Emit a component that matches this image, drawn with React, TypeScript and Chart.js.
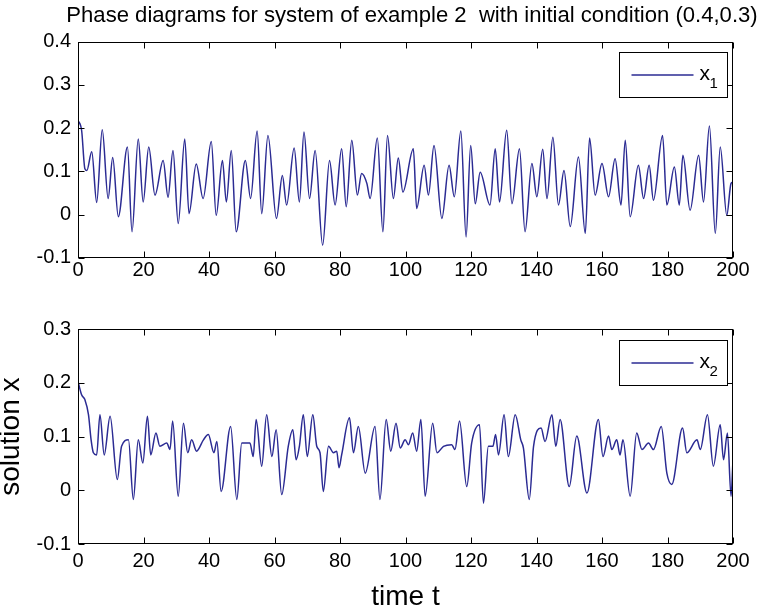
import React, { useEffect, useRef } from 'react';
import { Chart, registerables } from 'chart.js';

Chart.register(...registerables);

const TITLE = 'Phase diagrams for system of example 2  with initial condition (0.4,0.3)';
const X_LABEL = 'time t';
const Y_LABEL = 'solution x';

// time range and tick step (shared by both panels)
const timeRange = [0, 200];
const timeStep = 20;
// y ranges and steps
const x1Range = [-0.1, 0.4];
const x2Range = [-0.1, 0.3];
const yStep = 0.1;

// legend names: base letter and subscript
const x1Legend = ['x', '1'];
const x2Legend = ['x', '2'];

// x1(t): [t, value]
const x1Series: [number, number][] = [
  [0, 0.218], [1.1, 0.195], [2.1, 0.106], [2.7, 0.102], [4.2, 0.145], [5.7, 0.028], [7.4, 0.196],
  [9.2, 0.037], [10.6, 0.132], [12.3, -0.005], [15.1, 0.156], [16.5, -0.04], [18.4, 0.175],
  [19.9, 0.029], [21.6, 0.156], [23.5, 0.045], [26.0, 0.125], [27.5, 0.04], [29.0, 0.148],
  [30.6, -0.021], [32.6, 0.175], [33.9, 0.002], [36.1, 0.117], [38.2, 0.037], [40.7, 0.169],
  [42.2, -0.002], [44.1, 0.125], [45.3, 0.029], [46.8, 0.148], [48.3, -0.04], [51.1, 0.125],
  [52.7, 0.037], [54.7, 0.193], [56.1, 0.002], [58.0, 0.183], [60.6, -0.009], [62.4, 0.09],
  [63.7, 0.022], [66.0, 0.154], [67.6, 0.029], [69.0, 0.191], [70.7, 0.037], [72.4, 0.148],
  [74.7, -0.071], [76.8, 0.125], [78.5, 0.022], [80.5, 0.152], [81.9, 0.018], [83.6, 0.172],
  [85.3, 0.045], [86.6, 0.095], [88.2, 0.072], [89.2, 0.037], [91.4, 0.177], [93.1, -0.04],
  [94.5, 0.183], [96.3, 0.037], [97.8, 0.131], [99.2, 0.052], [102.4, 0.152], [103.4, 0.014],
  [105.7, 0.114], [107.0, 0.045], [108.7, 0.16], [111.1, -0.009], [113.3, 0.114], [114.9, 0.041],
  [116.9, 0.193], [118.5, -0.052], [119.9, 0.16], [121.3, 0.025], [122.8, 0.098], [125.8, 0.022],
  [127.4, 0.152], [128.7, 0.029], [130.9, 0.195], [132.5, 0.025], [134.8, 0.152], [136.5, -0.04],
  [138.6, 0.118], [140.1, 0.041], [141.9, 0.151], [143.2, 0.037], [145.0, 0.179], [146.7, 0.022],
  [148.4, 0.102], [150.3, -0.028], [152.8, 0.133], [154.9, -0.044], [156.2, 0.177], [157.9, 0.045],
  [160.0, 0.118], [162.0, 0.041], [164.0, 0.129], [165.8, 0.022], [167.1, 0.172], [168.6, -0.005],
  [171.1, 0.114], [172.7, 0.037], [174.4, 0.114], [175.7, 0.033], [178.5, 0.183], [179.8, 0.022],
  [182.1, 0.11], [183.6, 0.022], [184.7, 0.137], [186.9, 0.01], [189.5, 0.137], [191.0, 0.029],
  [192.8, 0.205], [194.6, -0.044], [196.1, 0.156], [198.1, -0.002], [199.4, 0.072], [200, 0.075],
];

// x2(t): [t, value]
const x2Series: [number, number][] = [
  [0, 0.203], [1.1, 0.178], [2.1, 0.169], [3.2, 0.141], [4.0, 0.094], [4.7, 0.07], [5.7, 0.066],
  [6.7, 0.141], [8.0, 0.066], [9.8, 0.138], [12.0, 0.02], [13.3, 0.082], [15.4, 0.094], [16.9, -0.017],
  [18.4, 0.094], [19.8, 0.051], [21.2, 0.138], [22.2, 0.066], [23.8, 0.107], [25.0, 0.082],
  [27.1, 0.088], [28.1, 0.076], [28.9, 0.129], [30.6, -0.011], [32.2, 0.125], [33.5, 0.07],
  [34.7, 0.094], [36.2, 0.073], [38.3, 0.094], [39.8, 0.104], [41.5, 0.07], [42.4, 0.091],
  [43.7, -0.002], [46.6, 0.119], [48.5, -0.017], [50.0, 0.088], [52.5, 0.088], [53.5, 0.063],
  [54.4, 0.132], [56.1, 0.045], [57.6, 0.141], [59.2, 0.063], [60.5, 0.113], [62.2, -0.008],
  [64.2, 0.082], [65.6, 0.113], [66.6, 0.057], [67.6, 0.082], [68.8, 0.141], [70.0, 0.063],
  [71.7, 0.141], [72.9, 0.082], [73.9, 0.07], [74.9, -0.002], [76.5, 0.082], [78.0, 0.07],
  [79.0, 0.073], [79.7, 0.042], [80.5, 0.066], [82.9, 0.135], [84.1, 0.07], [85.6, 0.119],
  [87.7, 0.032], [90.7, 0.119], [92.2, -0.017], [94.1, 0.132], [95.5, 0.073], [97.1, 0.125],
  [98.4, 0.079], [99.9, 0.094], [100.9, 0.085], [102.2, 0.107], [103.4, 0.073], [104.7, 0.132],
  [106.0, -0.011], [108.3, 0.125], [109.6, 0.07], [111.6, 0.082], [114.1, 0.085], [115.1, 0.076],
  [116.5, 0.129], [118.7, 0.007], [120.2, 0.088], [122.6, 0.122], [123.8, -0.024], [125.3, 0.082],
  [126.7, 0.082], [127.5, 0.104], [128.4, 0.066], [130.1, 0.141], [131.4, 0.063], [133.5, 0.141],
  [135.2, 0.094], [136.0, 0.079], [137.8, -0.017], [139.1, 0.082], [141.4, 0.116], [142.6, 0.091],
  [144.7, 0.141], [145.9, 0.082], [147.2, 0.132], [150.0, 0.007], [152.3, 0.101], [155.4, -0.005],
  [158.9, 0.132], [160.3, 0.063], [162.0, 0.101], [163.0, 0.076], [164.5, 0.094], [165.5, 0.066],
  [166.4, 0.094], [168.6, -0.011], [170.6, 0.107], [172.2, 0.076], [174.2, 0.088], [175.7, 0.076],
  [178.1, 0.119], [179.8, 0.032], [181.3, 0.011], [184.6, 0.116], [185.9, 0.07], [189.0, 0.094],
  [190.0, 0.076], [192.2, 0.141], [194.0, 0.045], [196.1, 0.122], [197.1, 0.057], [198.3, 0.107],
  [199.4, -0.011], [200, 0.057],
];

const FONT = 'Arial, "Liberation Sans", sans-serif';
const LINE_COLOR = '#2b2b93';
const W = 761;

// draws MATLAB-like box, inward ticks, boxed legend inside the plot area and the panel title
const matlabFrame = {
  id: 'matlabFrame',
  afterDraw(chart: any, _args: any, opts: any) {
    const { ctx, chartArea: a } = chart;
    const xs = chart.scales.x;
    const ys = chart.scales.y;
    ctx.save();
    ctx.strokeStyle = '#000';
    ctx.lineWidth = 1;
    const L = Math.round(a.left) + 0.5;
    const R = Math.round(a.right) - 0.5;
    const T = Math.round(a.top) + 0.5;
    const B = Math.round(a.bottom) - 0.5;
    ctx.strokeRect(L, T, R - L, B - T);
    const tl = 6;
    ctx.beginPath();
    xs.ticks.forEach((t: any) => {
      const p = Math.round(xs.getPixelForValue(t.value)) + 0.5;
      ctx.moveTo(p, B); ctx.lineTo(p, B - tl);
      ctx.moveTo(p, T); ctx.lineTo(p, T + tl);
    });
    ys.ticks.forEach((t: any) => {
      const p = Math.round(ys.getPixelForValue(t.value)) + 0.5;
      ctx.moveTo(L, p); ctx.lineTo(L + tl, p);
      ctx.moveTo(R, p); ctx.lineTo(R - tl, p);
    });
    ctx.stroke();

    // legend box
    const bw = 108;
    const bh = 45;
    const bx = Math.round(a.right - 6 - bw) + 0.5;
    const by = Math.round(a.top + 10.5) + 0.5;
    ctx.fillStyle = '#fff';
    ctx.fillRect(bx, by, bw, bh);
    ctx.strokeRect(bx, by, bw, bh);
    const ds = chart.data.datasets[0];
    ctx.strokeStyle = ds.borderColor;
    ctx.lineWidth = 1.3;
    ctx.beginPath();
    ctx.moveTo(bx + 12, by + 22.5);
    ctx.lineTo(bx + 74, by + 22.5);
    ctx.stroke();
    ctx.fillStyle = '#000';
    ctx.textAlign = 'left';
    ctx.textBaseline = 'alphabetic';
    ctx.font = `21px ${FONT}`;
    ctx.fillText(opts.name, bx + 80, by + 27);
    ctx.font = `15px ${FONT}`;
    ctx.fillText(opts.sub, bx + 90, by + 35);

    // panel title (centred slightly right of the plot-area centre, as in the figure)
    if (opts.title) {
      ctx.font = `22.1px ${FONT}`;
      ctx.textAlign = 'center';
      ctx.textBaseline = 'alphabetic';
      ctx.fillText(opts.title, (a.left + a.right) / 2 + 6.5, a.top - 20);
    }
    ctx.restore();
  },
};

function makeConfig(series: [number, number][], yRange: number[], legend: string[], panel: 'top' | 'bottom'): any {
  const isTop = panel === 'top';
  return {
    type: 'line',
    data: {
      datasets: [
        {
          label: legend.join(''),
          data: series.map(([t, v]) => ({ x: t, y: v })),
          borderColor: LINE_COLOR,
          borderWidth: 1.5,
          pointRadius: 0,
          cubicInterpolationMode: 'monotone',
          fill: false,
        },
      ],
    },
    options: {
      animation: false,
      responsive: false,
      maintainAspectRatio: false,
      events: [],
      layout: { padding: { left: 0, right: 28, top: isTop ? 41.7 : 39.3, bottom: 0 } },
      plugins: {
        legend: { display: false },
        tooltip: { enabled: false },
        title: { display: false },
        matlabFrame: { name: legend[0], sub: legend[1], title: isTop ? TITLE : '' },
      },
      scales: {
        x: {
          type: 'linear',
          min: timeRange[0],
          max: timeRange[1],
          grid: { display: false, drawTicks: false },
          border: { display: false },
          ticks: {
            stepSize: timeStep,
            padding: isTop ? 0.6 : 5.5,
            color: '#000',
            maxRotation: 0,
            autoSkip: false,
            font: { family: FONT, size: 20 },
          },
          title: {
            display: !isTop,
            text: X_LABEL,
            color: '#000',
            padding: 0,
            font: { family: FONT, size: 28, lineHeight: 1 },
          },
          afterFit: (s: any) => { s.height = isTop ? 32.3 : 67; },
        },
        y: {
          type: 'linear',
          min: yRange[0],
          max: yRange[1],
          grid: { display: false, drawTicks: false },
          border: { display: false },
          ticks: {
            stepSize: yStep,
            padding: 7,
            color: '#000',
            font: { family: FONT, size: 20 },
          },
          title: {
            display: !isTop,
            text: Y_LABEL,
            color: '#000',
            padding: 0,
            font: { family: FONT, size: 28, lineHeight: 0.8 },
          },
          afterFit: (s: any) => { s.width = 78; },
        },
      },
    },
    plugins: [matlabFrame],
  };
}

export default function App() {
  const topRef = useRef<HTMLCanvasElement>(null);
  const bottomRef = useRef<HTMLCanvasElement>(null);

  useEffect(() => {
    Chart.defaults.font.family = FONT;
    Chart.defaults.color = '#000';
    const c1 = new Chart(topRef.current as HTMLCanvasElement, makeConfig(x1Series, x1Range, x1Legend, 'top'));
    const c2 = new Chart(bottomRef.current as HTMLCanvasElement, makeConfig(x2Series, x2Range, x2Legend, 'bottom'));
    return () => {
      c1.destroy();
      c2.destroy();
    };
  }, []);

  return (
    <div style={{ position: 'absolute', left: 0, top: 0, width: W, height: 611, background: '#fff' }}>
      <canvas ref={topRef} width={W} height={290} style={{ position: 'absolute', left: 0, top: 0, display: 'block' }} />
      <canvas ref={bottomRef} width={W} height={321} style={{ position: 'absolute', left: 0, top: 290, display: 'block' }} />
    </div>
  );
}
